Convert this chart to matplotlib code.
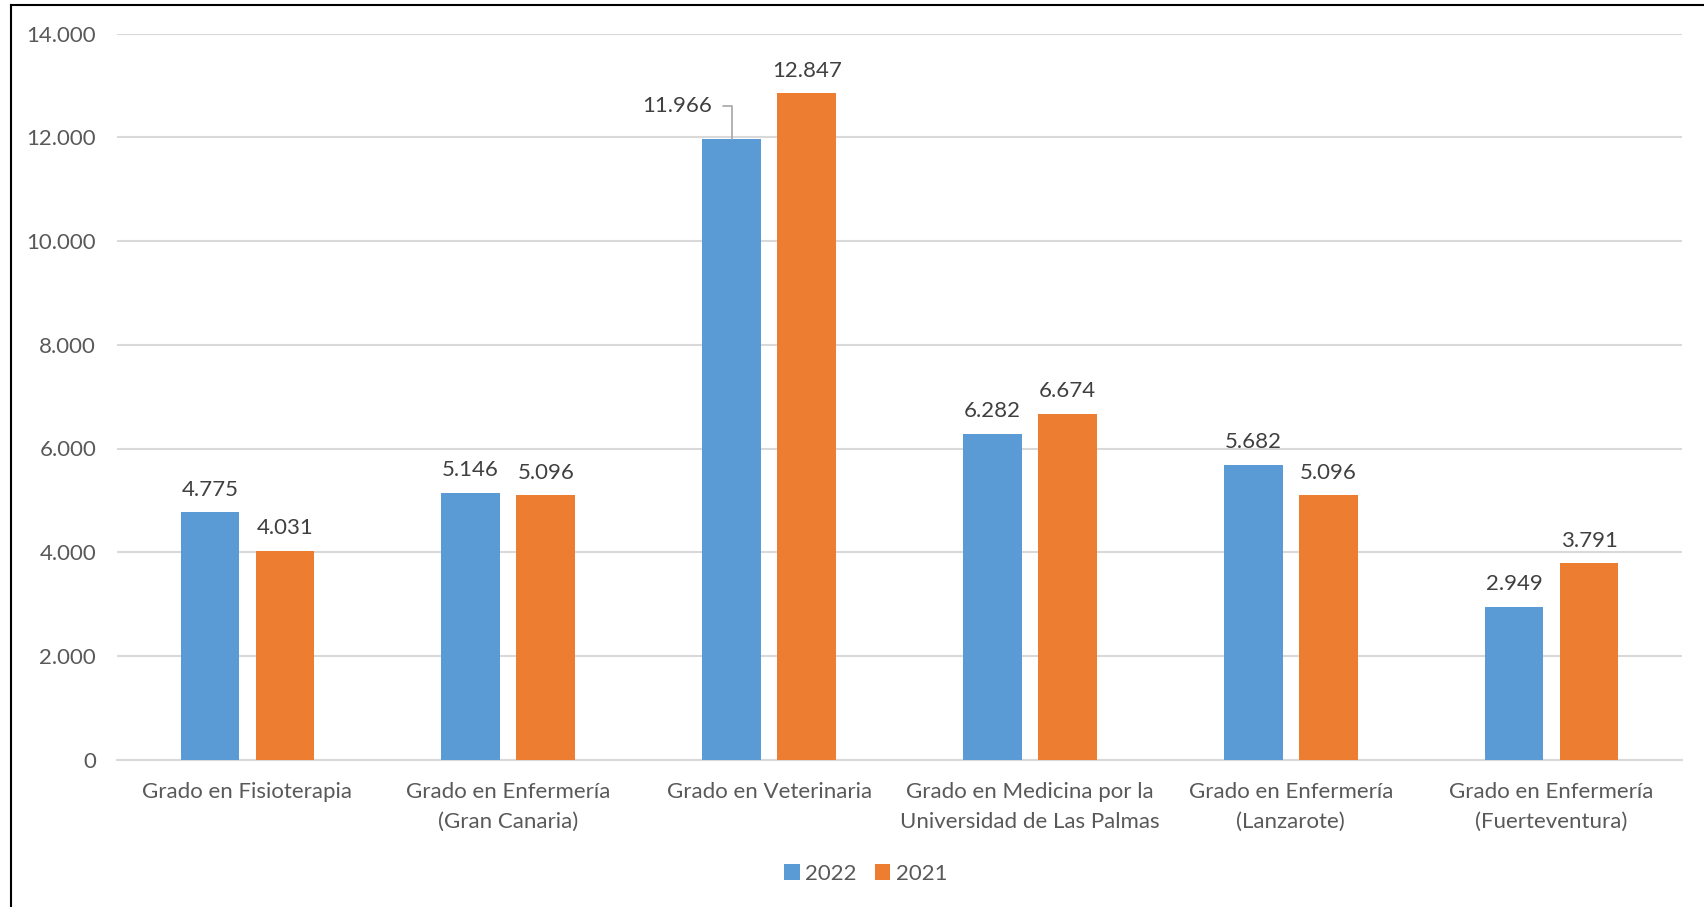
import matplotlib
matplotlib.use("Agg")
import matplotlib.pyplot as plt
import numpy as np
from matplotlib.lines import Line2D

categories = ["Grado en Fisioterapia", "Grado en Enfermería\n(Gran Canaria)", "Grado en Veterinaria",
              "Grado en Medicina por la\nUniversidad de Las Palmas", "Grado en Enfermería\n(Lanzarote)",
              "Grado en Enfermería\n(Fuerteventura)"]
series_names = ["2022", "2021"]
values_2022 = [4775, 5146, 11966, 6282, 5682, 2949]
values_2021 = [4031, 5096, 12847, 6674, 5096, 3791]
yticks = [0, 2000, 4000, 6000, 8000, 10000, 12000, 14000]

colors = ["#5B9BD5", "#ED7D31"]
plt.rcParams['font.family'] = ['Lato', 'DejaVu Sans']

def fmt(v):
    return f"{v:,}".replace(",", ".")

fig = plt.figure(figsize=(17.04, 9.07), dpi=100)
ax = fig.add_axes([117/1704, 1-759.6/907, (1682-117)/1704, (759.6-33.7)/907])

x = np.arange(len(categories))
w = 0.225
off = 0.144
FS = 16
b1 = ax.bar(x - off, values_2022, w, color=colors[0], label=series_names[0], zorder=3)
b2 = ax.bar(x + off, values_2021, w, color=colors[1], label=series_names[1], zorder=3)

ax.set_xlim(-0.5, len(categories) - 0.5)
ax.set_ylim(0, 14000)
ax.set_yticks(yticks)
ax.set_yticklabels([fmt(v) for v in yticks])
ax.yaxis.grid(True, color="#D9D9D9", linewidth=1.5, zorder=0)
ax.set_axisbelow(True)
for s in ["top", "right", "left"]:
    ax.spines[s].set_visible(False)
ax.spines["bottom"].set_color("#D9D9D9")
ax.spines["bottom"].set_linewidth(1.5)
ax.tick_params(axis="both", length=0, colors="#595959", labelsize=FS)
ax.tick_params(axis="y", pad=15)
ax.tick_params(axis="x", pad=16)
ax.set_xticks(x)
ax.set_xticklabels(categories, linespacing=1.62)

lab_color = "#404040"
for i, v in enumerate(values_2022):
    if i == 2:
        ax.annotate(fmt(v), xy=(i - off, v), xytext=(i - off - 0.075, v + 630),
                    ha="right", va="center", fontsize=FS, color=lab_color,
                    arrowprops=dict(arrowstyle="-", color="#A6A6A6", lw=1.2,
                                    connectionstyle="angle,angleA=0,angleB=90,rad=0",
                                    shrinkA=6, shrinkB=0))
    else:
        ax.annotate(fmt(v), xy=(i - off, v), xytext=(0, 9), textcoords="offset points",
                    ha="center", va="bottom", fontsize=FS, color=lab_color)
for i, v in enumerate(values_2021):
    ax.annotate(fmt(v), xy=(i + off, v), xytext=(0, 9), textcoords="offset points",
                ha="center", va="bottom", fontsize=FS, color=lab_color)

leg = fig.legend(handles=[b1, b2], labels=series_names, loc="center", bbox_to_anchor=(0.508, 1-874/907),
                 ncol=2, frameon=False, fontsize=FS, handlelength=0.7, handleheight=0.7,
                 handletextpad=0.25, columnspacing=0.8, labelcolor="#595959")

# frame border lines (left & top)
fig.add_artist(Line2D([11/1704, 11/1704], [0, 1-5/907], color="black", lw=1.5, transform=fig.transFigure))
fig.add_artist(Line2D([11/1704, 1], [1-5/907, 1-5/907], color="black", lw=1.5, transform=fig.transFigure))

fig.savefig("out.png", dpi=100)
